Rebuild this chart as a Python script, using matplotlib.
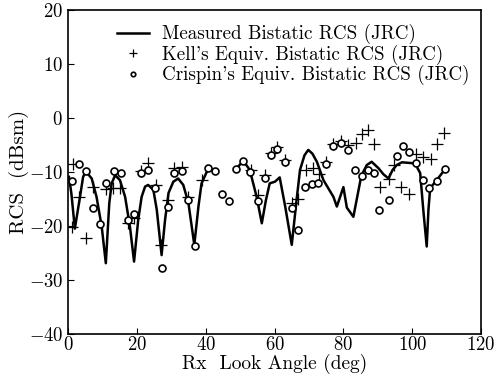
import numpy as np
import matplotlib
matplotlib.use("Agg")
import matplotlib.pyplot as plt

plt.rcParams['font.family'] = 'serif'
plt.rcParams['font.serif'] = ['cmr10']
plt.rcParams['mathtext.fontset'] = 'cm'
plt.rcParams['axes.formatter.use_mathtext'] = True

# measured bistatic RCS (line), nan = gap in the measurement
meas_angle = [0.3, 1.0, 2.0, 3.5, 4.4, 5.2, 6.9, 8.3, 9.8, 11.0, 12.0, 12.7, 13.7,
              15.1, 16.6, 18.0, 19.2, 20.4, 21.4, 22.4, 23.3, 24.8, 25.8, 27.2,
              28.2, 29.2, 30.6, 32.0, 33.5, 35.0, 36.7, 37.9, 38.8, 40.8, 42.7,
              45.5,
              48.8, 50.9, 52.8, 54.8, 56.3, 57.5, 58.6, 60.1, 61.5, 63.1, 65.0,
              66.4, 67.4, 68.7, 69.8, 71.0, 72.3, 74.2, 75.6, 77.1, 78.1, 80.0,
              81.0, 82.9, 85.2, 86.8, 88.2, 90.2, 91.6, 93.1, 94.3, 95.5, 97.0,
              100.8, 102.3, 103.2, 104.2, 104.7, 105.2, 107.1, 109.5]
meas_rcs = [-10.9, -14.0, -20.5, -14.6, -10.9, -9.9, -11.2, -14.6, -20.1, -26.9,
            -15.8, -12.1, -10.6, -11.5, -14.6, -20.1, -26.6, -18.9, -14.6, -12.7,
            -12.4, -13.3, -17.0, -25.4, -18.9, -13.9, -11.8, -11.2, -12.4, -15.8,
            -23.5, -16.4, -12.1, -9.3, -9.9,
            np.nan,
            -9.5, -7.9, -9.6, -14.6, -19.5, -15.2, -12.1, -11.8, -11.0, -16.4,
            -23.5, -15.2, -9.6, -6.9, -5.9, -6.6, -8.1, -11.5, -13.0, -14.6,
            -16.4, -12.8, -16.6, -18.3, -10.7, -8.7, -8.1, -9.3, -10.4, -11.2,
            -9.6, -8.7, -8.2, -8.4, -10.2, -17.0, -23.8, -17.0, -13.0, -11.5, -9.5]

# Kell's equivalent bistatic RCS (+)
kell_angle = [1.4, 1.1, 3.3, 5.2, 7.2, 11.0, 13.2, 15.1, 17.5, 19.2, 21.2, 23.3,
              25.5, 27.0, 29.0, 30.9, 33.0, 35.0, 38.8, 53.1, 55.3, 57.2, 58.9,
              60.8, 63.0, 65.0, 66.9, 69.1, 71.1, 73.0, 75.0, 77.1, 79.2, 81.4,
              83.7, 85.5, 87.2, 88.9, 90.6, 93.3, 94.7, 96.6, 99.1, 101.1, 103.2,
              105.4, 107.3, 109.3]
kell_rcs = [-8.6, -20.2, -14.7, -22.3, -12.7, -13.2, -13.0, -13.0, -19.5, -18.6,
            -9.9, -8.4, -12.4, -23.5, -15.2, -9.3, -9.1, -14.6, -11.5, -9.6,
            -14.3, -10.6, -6.4, -5.3, -7.7, -15.8, -15.0, -9.6, -9.3, -10.4,
            -8.1, -4.8, -4.2, -5.0, -4.7, -3.0, -2.2, -4.8, -12.8, -11.3, -8.7,
            -12.7, -14.1, -6.7, -7.3, -7.6, -4.8, -2.8]

# Crispin's equivalent bistatic RCS (o)
crispin_angle = [1.1, 3.2, 5.2, 7.2, 9.3, 11.0, 13.4, 15.3, 17.5, 19.2, 21.2, 23.3,
                 25.3, 27.2, 29.0, 30.9, 33.0, 35.0, 36.9, 40.8, 42.7, 44.7, 46.9,
                 48.8, 50.9, 53.0, 55.3, 57.2, 58.9, 60.8, 63.0, 65.0, 66.7, 68.9,
                 70.8, 72.7, 75.0, 77.1, 79.3, 81.4, 83.4, 85.3, 87.2, 88.9, 90.4,
                 93.3, 95.5, 97.2, 99.1, 101.0, 103.0, 105.0, 107.1, 109.5]
crispin_rcs = [-11.7, -8.5, -9.9, -16.6, -19.7, -12.1, -9.8, -10.2, -18.8, -17.7,
               -10.2, -9.6, -13.0, -27.8, -16.5, -10.1, -9.9, -15.2, -23.7, -9.3,
               -9.9, -14.1, -15.3, -9.5, -7.9, -10.0, -15.3, -11.2, -6.9, -5.8,
               -8.1, -16.7, -20.7, -12.7, -12.2, -12.0, -8.5, -5.2, -4.7, -5.9,
               -9.6, -10.7, -9.6, -10.1, -17.0, -15.2, -7.0, -5.1, -6.2, -8.4,
               -11.4, -13.0, -11.6, -9.5]

fig = plt.figure(figsize=(4.96, 3.76), dpi=100)
ax = fig.add_axes([0.137, 0.112, 0.833, 0.861])

ax.plot(meas_angle, meas_rcs, color='black', lw=1.8,
        label='Measured Bistatic RCS (JRC)')
ax.plot(kell_angle, kell_rcs, ls='none', marker='+', ms=8, mew=0.9,
        color='black', label="Kell's Equiv. Bistatic RCS (JRC)")
ax.plot(crispin_angle, crispin_rcs, ls='none', marker='o', ms=5, mew=1.2,
        mfc='white', mec='black', label="Crispin's Equiv. Bistatic RCS (JRC)")

ax.set_xlim(0, 120)
ax.set_ylim(-40, 20)
ax.set_xticks(range(0, 121, 20))
ax.set_yticks(range(-40, 21, 10))
ax.tick_params(direction='in', length=4, labelsize=13.5, top=False, right=False)
ax.tick_params(axis='x', pad=1.5)
for s in ax.spines.values():
    s.set_linewidth(1.2)

ax.set_xlabel('Rx  Look Angle (deg)', fontsize=14, labelpad=0)
ax.set_ylabel('RCS  (dBsm)', fontsize=15, labelpad=0)

leg = ax.legend(loc='upper center', bbox_to_anchor=(0.545, 0.998), frameon=False,
                fontsize=13.7, handlelength=1.7, handletextpad=0.7,
                labelspacing=0.02, markerscale=0.65, borderaxespad=0.3)

fig.savefig('out.png', dpi=100)
